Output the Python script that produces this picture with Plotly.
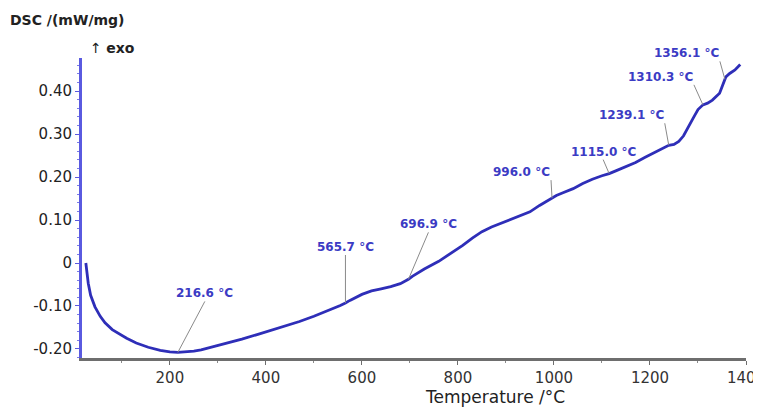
import numpy as np
import plotly.graph_objects as go

# DSC curve
temp = [25, 27, 30, 35, 44, 55, 65, 80, 95, 110, 130, 155, 180, 200, 216.6, 235, 250, 265,
        290, 320, 350, 380, 410, 440, 470, 500, 530, 555, 565.7, 575, 600, 620, 640, 660,
        680, 696.9, 705, 730, 760, 790, 810, 830, 850, 870, 900, 930, 950, 970, 990, 996,
        1005, 1020, 1040, 1060, 1080, 1100, 1115, 1130, 1150, 1170, 1190, 1210, 1225,
        1239.1, 1250, 1260, 1270, 1280, 1290, 1300, 1310.3, 1320, 1330, 1345, 1352, 1358,
        1366, 1377, 1388]
dsc = [0.000, -0.025, -0.047, -0.075, -0.102, -0.124, -0.139, -0.155, -0.165, -0.175,
       -0.186, -0.196, -0.203, -0.207, -0.208, -0.207, -0.205, -0.202, -0.195, -0.186,
       -0.177, -0.167, -0.157, -0.147, -0.136, -0.124, -0.111, -0.099, -0.093, -0.087,
       -0.073, -0.065, -0.060, -0.055, -0.048, -0.038, -0.031, -0.014, 0.004, 0.025,
       0.041, 0.058, 0.073, 0.084, 0.097, 0.109, 0.119, 0.134, 0.148, 0.151, 0.157,
       0.164, 0.173, 0.185, 0.195, 0.203, 0.208, 0.215, 0.224, 0.234, 0.246, 0.257,
       0.266, 0.274, 0.276, 0.283, 0.296, 0.315, 0.337, 0.357, 0.368, 0.372, 0.379,
       0.395, 0.415, 0.433, 0.441, 0.449, 0.462]

peak_temps = [216.6, 565.7, 696.9, 996.0, 1115.0, 1239.1, 1310.3, 1356.1]
peak_labels = ['216.6 °C', '565.7 °C', '696.9 °C', '996.0 °C', '1115.0 °C',
               '1239.1 °C', '1310.3 °C', '1356.1 °C']

x_ticks = [200, 400, 600, 800, 1000, 1200, 1400]
y_ticks = [-0.2, -0.1, 0, 0.1, 0.2, 0.3, 0.4]
y_ticktext = ['-0.20', '-0.10', '0', '0.10', '0.20', '0.30', '0.40']

# label placement: (ax, ay, xanchor, yanchor)
label_pos = [(27, -51, 'center', 'bottom'), (0, -48, 'center', 'bottom'),
             (20, -47, 'center', 'bottom'), (-1, -18, 'right', 'bottom'),
             (-6, -14, 'center', 'bottom'), (-4, -22, 'right', 'bottom'),
             (-9, -20, 'right', 'bottom'), (-5, -18, 'right', 'bottom')]

FONT = 'DejaVu Sans, Verdana, sans-serif'
curve_col = '#2e2eb8'
label_col = '#3b3bc4'

fig = go.Figure()
fig.add_trace(go.Scatter(x=temp, y=dsc, mode='lines',
                         line=dict(color=curve_col, width=2.8), hoverinfo='skip'))

for t, lab, (ax, ay, xa, ya) in zip(peak_temps, peak_labels, label_pos):
    fig.add_annotation(x=t, y=float(np.interp(t, temp, dsc)), text='<b>' + lab + '</b>',
                       showarrow=True, arrowhead=0, arrowwidth=1, arrowcolor='#8a8a8a',
                       ax=ax, ay=ay, xanchor=xa, yanchor=ya, borderpad=0,
                       font=dict(family=FONT, size=12, color=label_col))

fig.add_annotation(xref='paper', yref='paper', x=-0.111, y=1.127, xanchor='left', yanchor='middle',
                   text='<b>DSC /(mW/mg)</b>', showarrow=False,
                   font=dict(family=FONT, size=14, color='#222'))
fig.add_annotation(xref='paper', yref='paper', x=0.009, y=1.033, xanchor='left', yanchor='middle',
                   text='↑ <b>exo</b>', showarrow=False,
                   font=dict(family=FONT, size=14, color='#222'))
fig.add_annotation(xref='paper', yref='paper', x=0.622, y=-0.13, xanchor='center', yanchor='middle',
                   text='Temperature /°C', showarrow=False,
                   font=dict(family=FONT, size=17, color='#222'))

fig.update_xaxes(range=[17, 1400], tickvals=x_ticks, showgrid=False, zeroline=False,
                 showline=True, linecolor='#6e6e6e', linewidth=3, automargin=False,
                 ticklabeloverflow='allow',
                 ticks='outside', ticklen=4, tickcolor='#6e6e6e', tickwidth=1,
                 minor=dict(dtick=100, ticks='outside', ticklen=2, tickcolor='#8a8a8a'),
                 tickfont=dict(family=FONT, size=15, color='#333'))
fig.update_yaxes(range=[-0.221, 0.477], tickvals=y_ticks, ticktext=y_ticktext,
                 showgrid=False, zeroline=False, automargin=False,
                 showline=True, linecolor='#5a5ae0', linewidth=3,
                 ticks='outside', ticklen=4, tickcolor='#5a5ae0', tickwidth=1,
                 minor=dict(dtick=0.02, ticks='outside', ticklen=2, tickcolor='#7a7ae8'),
                 tickfont=dict(family=FONT, size=15, color='#222'),
                 tickprefix='<b>', ticksuffix='</b>')

# page body has an 8px margin, so the figure is 8px smaller and shifted
fig.update_layout(width=753, height=400, showlegend=False,
                  plot_bgcolor='white', paper_bgcolor='white',
                  margin=dict(l=74, r=15, t=50, b=50),
                  font=dict(family=FONT))

fig.write_html("out.html")
